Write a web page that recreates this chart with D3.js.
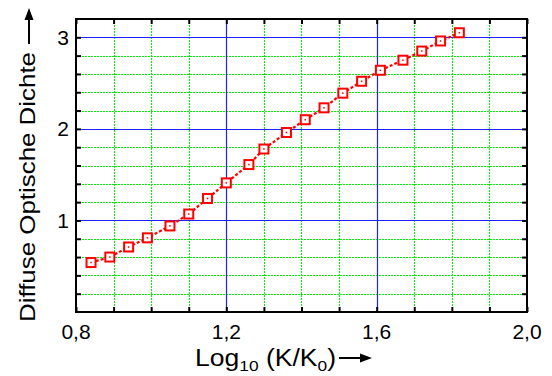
<!DOCTYPE html>
<html>
<head>
<meta charset="utf-8">
<script src="https://cdn.jsdelivr.net/npm/d3@7"></script>
<style>
  html, body { margin: 0; padding: 0; background: #fff; }
  svg { display: block; font-family: "Liberation Sans", Arial, sans-serif; }
</style>
</head>
<body>
<svg id="chart" width="552" height="376"></svg>
<script>
// Measured density curve: log10(K/K0) against diffuse optical density
const logK = [0.84, 0.89, 0.94, 0.99, 1.05, 1.10, 1.15, 1.20, 1.26, 1.30,
              1.36, 1.41, 1.46, 1.51, 1.56, 1.61, 1.67, 1.72, 1.77, 1.82];
const density = [0.54, 0.60, 0.71, 0.81, 0.94, 1.07, 1.24, 1.41, 1.61, 1.78,
                 1.96, 2.10, 2.23, 2.39, 2.52, 2.64, 2.75, 2.85, 2.96, 3.05];

const xMajorTicks = [0.8, 1.2, 1.6, 2.0];
const xTickLabels = ["0,8", "1,2", "1,6", "2,0"];
const yMajorTicks = [1, 2, 3];
const yTickLabels = ["1", "2", "3"];

const svg = d3.select("#chart");
const plotLeft = 76, plotRight = 527, plotTop = 19, plotBottom = 312;

const x = d3.scaleLinear().domain([0.8, 2.0]).range([plotLeft, plotRight]);
const y = d3.scaleLinear().domain([0, 3.2]).range([plotBottom, plotTop]);

const xMinor = d3.range(0, 13).map(i => +(0.8 + i * 0.1).toFixed(2));
const yMinor = d3.range(1, 16).map(i => +(i * 0.2).toFixed(2));
const isMajorX = v => xMajorTicks.some(t => Math.abs(t - v) < 1e-6);
const isMajorY = v => yMajorTicks.some(t => Math.abs(t - v) < 1e-6);

// Minor grid (green, dotted)
const grid = svg.append("g");
grid.selectAll("line.gx").data(xMinor.filter(v => !isMajorX(v)))
  .join("line")
  .attr("x1", d => Math.round(x(d)) + 0.5).attr("x2", d => Math.round(x(d)) + 0.5)
  .attr("y1", plotTop).attr("y2", plotBottom)
  .attr("stroke", "#00f000").attr("stroke-width", 1).attr("stroke-dasharray", "2,1");
grid.selectAll("line.gy").data(yMinor.filter(v => !isMajorY(v)))
  .join("line")
  .attr("y1", d => Math.round(y(d)) + 0.5).attr("y2", d => Math.round(y(d)) + 0.5)
  .attr("x1", plotLeft).attr("x2", plotRight)
  .attr("stroke", "#00f000").attr("stroke-width", 1).attr("stroke-dasharray", "2,1");

// Major grid (blue, solid)
grid.selectAll("line.mx").data(xMajorTicks.filter(v => v > 0.8 && v < 2.0))
  .join("line")
  .attr("x1", d => Math.round(x(d)) + 0.5).attr("x2", d => Math.round(x(d)) + 0.5)
  .attr("y1", plotTop).attr("y2", plotBottom)
  .attr("stroke", "#2020ff").attr("stroke-width", 1.2);
grid.selectAll("line.my").data(yMajorTicks)
  .join("line")
  .attr("y1", d => Math.round(y(d)) + 0.5).attr("y2", d => Math.round(y(d)) + 0.5)
  .attr("x1", plotLeft).attr("x2", plotRight)
  .attr("stroke", "#2020ff").attr("stroke-width", 1.2);

// Axes with inward ticks on all four sides
const tickLen = 5;
const axisStyle = g => {
  g.select(".domain").remove();
  g.selectAll(".tick line").attr("stroke", "#000").attr("stroke-width", 2);
  g.selectAll(".tick text").remove();
};
svg.append("g").attr("transform", `translate(0,${plotBottom})`)
  .call(d3.axisBottom(x).tickValues(xMinor).tickSize(-tickLen)).call(axisStyle);
svg.append("g").attr("transform", `translate(0,${plotTop})`)
  .call(d3.axisTop(x).tickValues(xMinor).tickSize(-tickLen)).call(axisStyle);
svg.append("g").attr("transform", `translate(${plotLeft},0)`)
  .call(d3.axisLeft(y).tickValues(yMinor).tickSize(-tickLen)).call(axisStyle);
svg.append("g").attr("transform", `translate(${plotRight},0)`)
  .call(d3.axisRight(y).tickValues(yMinor).tickSize(-tickLen)).call(axisStyle);

// Frame
svg.append("rect")
  .attr("x", plotLeft).attr("y", plotTop)
  .attr("width", plotRight - plotLeft).attr("height", plotBottom - plotTop)
  .attr("fill", "none").attr("stroke", "#000").attr("stroke-width", 2);

// Tick labels
svg.append("g").selectAll("text").data(xMajorTicks)
  .join("text")
  .attr("x", d => x(d)).attr("y", plotBottom + 27)
  .attr("text-anchor", "middle").attr("font-size", 21).attr("fill", "#000")
  .text((d, i) => xTickLabels[i]);
svg.append("g").selectAll("text").data(yMajorTicks)
  .join("text")
  .attr("x", plotLeft - 7).attr("y", d => y(d) + 7.5)
  .attr("text-anchor", "end").attr("font-size", 21).attr("fill", "#000")
  .text((d, i) => yTickLabels[i]);

// Data line and markers
const line = d3.line().x((d, i) => x(logK[i])).y(d => y(d));
svg.append("path").datum(density)
  .attr("d", line).attr("fill", "none")
  .attr("stroke", "#ff0000").attr("stroke-width", 2.2).attr("stroke-dasharray", "3,2");
const marks = svg.append("g").selectAll("g").data(density).join("g")
  .attr("transform", (d, i) => `translate(${x(logK[i])},${y(d)})`);
marks.append("rect")
  .attr("x", -4.5).attr("y", -4.5).attr("width", 9).attr("height", 9)
  .attr("fill", "#fff").attr("stroke", "#ff0000").attr("stroke-width", 2);
marks.append("rect")
  .attr("x", -0.75).attr("y", -0.75).attr("width", 1.5).attr("height", 1.5)
  .attr("fill", "#ff0000");

// Axis titles
const xt = svg.append("text").attr("x", 195).attr("y", 366)
  .attr("font-size", 23).attr("fill", "#000")
  .attr("textLength", 141).attr("lengthAdjust", "spacingAndGlyphs");
xt.append("tspan").text("Log");
xt.append("tspan").attr("font-size", 15).attr("dy", 5).text("10");
xt.append("tspan").attr("dy", -5).text(" (K/K");
xt.append("tspan").attr("font-size", 15).attr("dy", 5).text("0");
xt.append("tspan").attr("dy", -5).text(")");
svg.append("line").attr("x1", 339).attr("x2", 362).attr("y1", 358).attr("y2", 358)
  .attr("stroke", "#000").attr("stroke-width", 2);
svg.append("path").attr("d", "M372,358 L360,353.5 L360,362.5 Z").attr("fill", "#000");

svg.append("text")
  .attr("transform", "translate(35,322) rotate(-90)")
  .attr("font-size", 22).attr("fill", "#000")
  .attr("textLength", 270).attr("lengthAdjust", "spacingAndGlyphs")
  .text("Diffuse Optische Dichte");
svg.append("line").attr("x1", 29).attr("x2", 29).attr("y1", 44).attr("y2", 18)
  .attr("stroke", "#000").attr("stroke-width", 2);
svg.append("path").attr("d", "M29,8 L24.5,20 L33.5,20 Z").attr("fill", "#000");
</script>
</body>
</html>
